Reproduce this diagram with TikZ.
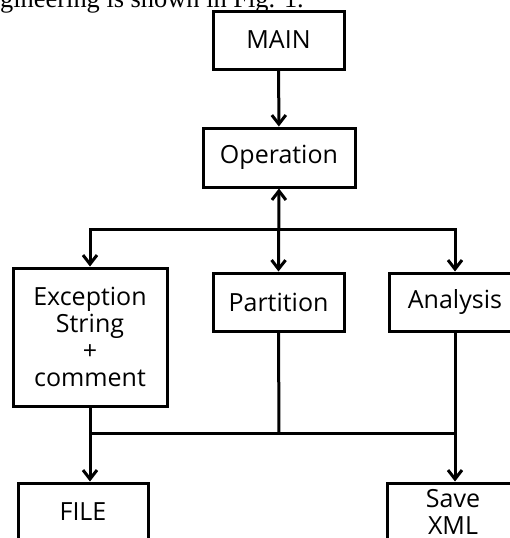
\documentclass[tikz,border=0pt]{standalone}
\usepackage{fontspec}
\setmainfont{Open Sans}
\newfontfamily\bodyserif{Liberation Serif}
\usetikzlibrary{arrows.meta}
\begin{document}
\begin{tikzpicture}[x=1pt,y=-1pt,
  box/.style={draw, line width=3pt, inner sep=0pt, align=center,
    font=\fontsize{25}{27}\selectfont},
  flow/.style={line width=3pt},
  arr/.style={flow, -{Straight Barb[length=9pt,width=14pt,line width=3pt]}},
  darr/.style={flow, {Straight Barb[length=9pt,width=14pt,line width=3pt]}-{Straight Barb[length=9pt,width=14pt,line width=3pt]}}]
\useasboundingbox (0,0) rectangle (510,538);
\clip (0,0) rectangle (510,538);

% running text above the figure
\node[anchor=base west, inner sep=0pt, font=\bodyserif\fontsize{26.4}{30}\selectfont]
  (caption) at (0,8) {gineering is shown in Fig. 1.};

% boxes
\node[box, minimum width=131pt, minimum height=58pt] (main) at (278.5,40) {MAIN};
\node[box, minimum width=152pt, minimum height=59pt] (oper) at (279,157.5) {Operation};
\node[box, minimum width=154pt, minimum height=138pt] (exc) at (90,337) {Exception\\String\\+\\comment};
\node[box, minimum width=131pt, minimum height=58pt] (part) at (278.5,302) {Partition};
\node[box, minimum width=132pt, minimum height=58pt] (ana) at (455,302) {Analysis};
\node[box, minimum width=130pt, minimum height=58pt] (file) at (83,512) {FILE};
\node[box, minimum width=132pt, minimum height=58pt] (save) at (453,512) {Save\\XML};

% junction points
\coordinate (split) at (279,229);
\coordinate (merge) at (279,433);

% connectors
\draw[arr] (main) -- (oper);
\draw[darr] (oper.south) -- (part.north);
\draw[arr] (split) -| (exc.north);
\draw[arr] (split) -| (ana.north);
\draw[flow] (exc.south) |- (merge);
\draw[flow] (ana.south) |- (merge);
\draw[flow] (part.south) -- (merge);
\draw[arr] (exc.south |- merge) -- (exc.south |- file.north);
\draw[arr] (ana.south |- merge) -- (ana.south |- save.north);
\end{tikzpicture}
\end{document}
